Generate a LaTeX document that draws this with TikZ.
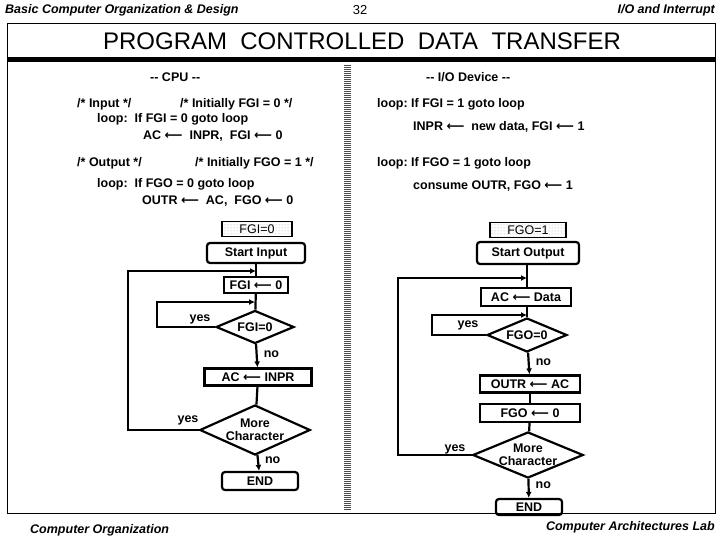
\documentclass[tikz,border=0pt]{standalone}
\usepackage{fontspec}
\setmainfont{Liberation Sans}
\newfontfamily\symfont{DejaVu Sans}
\usetikzlibrary{shapes.geometric,arrows.meta,patterns}
\newcommand{\la}{{\symfont\bfseries\char"27F5}}
\tikzset{
  txt/.style={anchor=west, inner sep=0pt, font=\fontsize{12.5}{14}\selectfont\bfseries},
  box/.style={draw, line width=2.2pt, inner sep=0pt, font=\fontsize{12.5}{14}\selectfont\bfseries},
  rbox/.style={box, rounded corners=3pt},
  flag/.style={draw, line width=1.5pt, inner sep=0pt, pattern=dots, pattern color=gray!70, font=\fontsize{12.5}{14}\selectfont},
  dec/.style={draw, diamond, aspect=2.4, line width=2.2pt, inner sep=0pt, align=center, font=\fontsize{12.5}{13}\selectfont\bfseries},
  lbl/.style={inner sep=0pt, font=\fontsize{12.5}{14}\selectfont\bfseries},
  flow/.style={line width=2.2pt},
  arr/.style={flow, -{Latex[length=6pt,width=6pt]}}
}
\begin{document}
\begin{tikzpicture}[x=1pt,y=-1pt]
\useasboundingbox (0,0) rectangle (720,540);
% header and frame
\node[anchor=west, inner sep=0pt, font=\fontsize{12.5}{14}\selectfont\bfseries\itshape] (head) at (5,10) {Basic Computer Organization \& Design};
\node[inner sep=0pt, font=\fontsize{13}{14}\selectfont] (page) at (360,10) {32};
\node[anchor=east, inner sep=0pt, font=\fontsize{12.5}{14}\selectfont\bfseries\itshape] (topic) at (715,10) {I/O and Interrupt};
\draw[line width=1pt] (7,24) rectangle (715,513);
\fill (7,57) rectangle (715,62);
\node[inner sep=0pt, font=\fontsize{24}{26}\selectfont] (title) at (362,41) {PROGRAM\ \ CONTROLLED\ \ DATA\ \ TRANSFER};
\foreach \y in {65,67,...,509} \draw[line width=0.5pt, gray!60!black] (344,\y) -- (351,\y);
% program text
\node[txt] (cpu) at (150,77) {{-}{-} CPU {-}{-}};
\node[txt] (in1) at (77,104) {/* Input */};
\node[txt] (in2) at (180,104) {/* Initially FGI = 0 */};
\node[txt] (in3) at (97,119) {loop:\ \ If FGI = 0 goto loop};
\node[txt] (in4) at (143,136) {AC \la\ \ INPR,\ \ FGI \la\ 0};
\node[txt] (out1) at (77,163) {/* Output */};
\node[txt] (out2) at (195,163) {/* Initially FGO = 1 */};
\node[txt] (out3) at (97,184) {loop:\ \ If FGO = 0 goto loop};
\node[txt] (out4) at (142,201) {OUTR \la\ \ AC,\ \ FGO \la\ 0};
\node[txt] (dev) at (426,77) {{-}{-} I/O Device {-}{-}};
\node[txt] (d1) at (377,104) {loop:\ If FGI = 1 goto loop};
\node[txt] (d2) at (413,127) {INPR \la\ \ new data, FGI \la\ 1};
\node[txt] (d3) at (377,163) {loop:\ If FGO = 1 goto loop};
\node[txt] (d4) at (413,186) {consume OUTR, FGO \la\ 1};
% input flowchart
\node[flag, minimum width=70pt, minimum height=15pt] (fgi) at (257,229) {FGI=0};
\node[rbox, minimum width=98pt, minimum height=20pt] (sin) at (256,253) {Start Input};
\node[box, minimum width=64pt, minimum height=16pt] (clr) at (256,285) {FGI \la\ 0};
\node[dec, minimum width=78pt, minimum height=33pt] (tfgi) at (255,327) {FGI=0};
\node[box, minimum width=107pt, minimum height=17pt] (ld) at (258,377) {AC \la\ INPR};
\node[dec, minimum width=100pt, minimum height=50pt] (more) at (255,430) {More\\Character};
\node[rbox, minimum width=76pt, minimum height=18pt] (fin) at (260,481) {END};
\draw[flow] (sin) -- (clr);
\draw[flow] (clr) -- (tfgi);
\draw[arr] (tfgi) -- node[lbl, right=6pt, pos=0.45] (no1) {no} (ld);
\draw[flow] (ld) -- (more);
\draw[arr] (more) -- node[lbl, right=6pt, pos=0.3] (no2) {no} (fin);
\draw[arr] (tfgi.west) -- (157,327) -- (157,302) -- (tfgi.north |- 0,302);
\draw[arr] (more.west) -- (128,430) -- (128,271) -- (sin.south |- 0,271);
\node[lbl] (yes1) at (200,319) {yes};
\node[lbl] (yes2) at (188,420) {yes};
% output flowchart
\node[flag, minimum width=76pt, minimum height=15pt] (fgo) at (528,230) {FGO=1};
\node[rbox, minimum width=102pt, minimum height=22pt] (sout) at (528,253) {Start Output};
\node[box, minimum width=90pt, minimum height=18pt] (data) at (526,297) {AC \la\ Data};
\node[dec, minimum width=80pt, minimum height=34pt] (tfgo) at (527,335) {FGO=0};
\node[box, minimum width=100pt, minimum height=17pt] (st) at (530,384) {OUTR \la\ AC};
\node[box, minimum width=100pt, minimum height=18pt] (set) at (530,413) {FGO \la\ 0};
\node[dec, minimum width=104pt, minimum height=44pt] (more2) at (528,455) {More\\Character};
\node[rbox, minimum width=66pt, minimum height=16pt] (fin2) at (529,507) {END};
\draw[flow] (sout.south -| tfgo.north) -- (data.north -| tfgo.north);
\draw[arr] (tfgo) -- node[lbl, right=6pt, pos=0.45] (no3) {no} (st);
\draw[flow] (st) -- (set);
\draw[flow] (set) -- (more2);
\draw[arr] (more2) -- node[lbl, right=6pt, pos=0.35] (no4) {no} (fin2);
\draw[flow] (data.south -| tfgo.north) -- (tfgo.north);
\draw[arr] (tfgo.west) -- (432,335) -- (432,315) -- (tfgo.north |- 0,315);
\draw[arr] (more2.west) -- (398,455) -- (398,278) -- (tfgo.north |- 0,278);
\node[lbl] (yes3) at (468,325) {yes};
\node[lbl] (yes4) at (455,449) {yes};
% footer
\node[anchor=west, inner sep=0pt, font=\fontsize{12.5}{14}\selectfont\bfseries\itshape] (foot1) at (30,530) {Computer Organization};
\node[anchor=east, inner sep=0pt, font=\fontsize{12.5}{14}\selectfont\bfseries\itshape] (foot2) at (715,527) {Computer Architectures Lab};
\end{tikzpicture}
\end{document}
